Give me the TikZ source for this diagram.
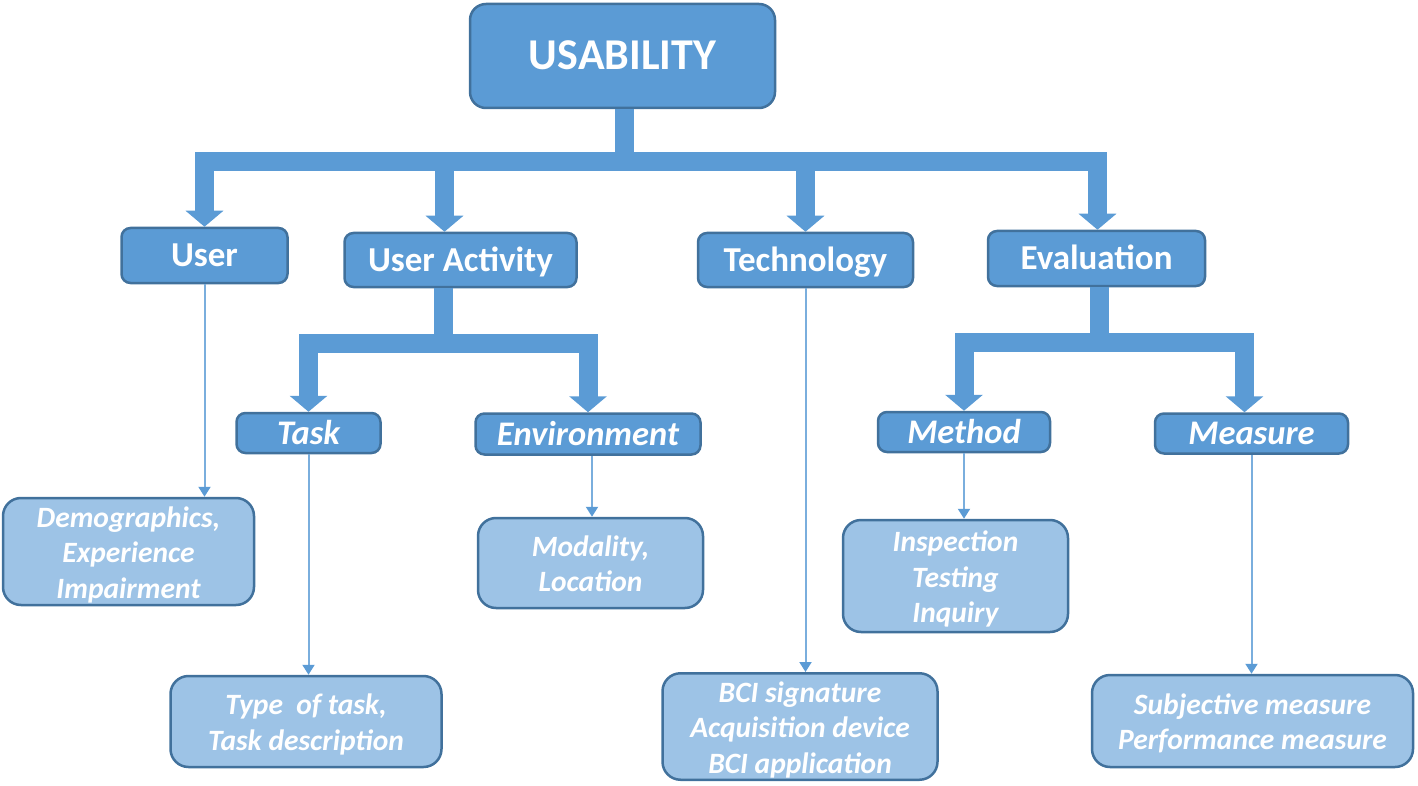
\documentclass[tikz,border=0pt]{standalone}
\usepackage{fontspec}
\setmainfont{Carlito}
\usetikzlibrary{arrows.meta}
\definecolor{cdark}{HTML}{5B9BD5}
\definecolor{cedge}{HTML}{41719C}
\definecolor{clight}{HTML}{9DC3E6}
\definecolor{cthin}{HTML}{7AAEDD}
\newcommand{\leaftext}[1]{\raisebox{-4pt}[\height][\depth]{\begin{tabular}{@{}c@{}}#1\end{tabular}}}
\tikzset{
  topbox/.style={draw=cedge, fill=cdark, line width=2.5pt, rounded corners=16pt, text=white,
    font=\bfseries\fontsize{44}{52}\selectfont, inner sep=0pt, text height=28pt, text depth=0pt},
  lvone/.style={draw=cedge, fill=cdark, line width=2.5pt, rounded corners=9pt, text=white,
    font=\bfseries\fontsize{35}{42}\selectfont, inner sep=0pt, text height=22.5pt, text depth=0pt},
  lvtwo/.style={lvone, font=\bfseries\itshape\fontsize{34.5}{41}\selectfont, text height=22pt},
  leaf/.style={draw=cedge, fill=clight, line width=2.5pt, rounded corners=18pt, text=white,
    font=\bfseries\itshape\fontsize{29.5}{35.5}\selectfont, inner sep=0pt},
  fat/.style={draw=cdark, line width=19pt, -{Triangle[width=37pt,length=16pt]}},
  slim/.style={draw=cthin, line width=2pt, -{Triangle[width=12pt,length=10pt,color=cdark]}},
}
\begin{document}
\begin{tikzpicture}[x=1pt,y=-1pt]
\useasboundingbox (0,0) rectangle (1418,786);
% nodes
\node[topbox, minimum width=305pt, minimum height=104pt] (usab) at (622.5,56) {USABILITY};
\node[lvone, minimum width=166pt, minimum height=55pt] (user) at (204.5,255.5) {User};
\node[lvone, minimum width=232pt, minimum height=54pt] (ua) at (460.5,260) {User Activity};
\node[lvone, minimum width=215pt, minimum height=54pt] (tech) at (805.5,260) {Technology};
\node[lvone, minimum width=217pt, minimum height=55pt] (eval) at (1096.5,258.5) {Evaluation};
\node[lvtwo, minimum width=144pt, minimum height=40pt] (task) at (308.5,433) {Task};
\node[lvtwo, minimum width=225pt, minimum height=41pt] (env) at (588,434) {Environment};
\node[lvtwo, minimum width=172pt, minimum height=40pt] (meth) at (964,432) {Method};
\node[lvtwo, minimum width=193pt, minimum height=40pt] (meas) at (1251.5,433.5) {Measure};
\node[leaf, minimum width=251pt, minimum height=107pt] (demo) at (128.5,551.5) {\leaftext{Demographics,\\Experience\\Impairment}};
\node[leaf, minimum width=271pt, minimum height=91pt] (type) at (306,721.5) {\leaftext{Type\ \ of task,\\Task description}};
\node[leaf, minimum width=225pt, minimum height=90pt] (mod) at (590.5,563) {\leaftext{Modality,\\Location}};
\node[leaf, minimum width=275pt, minimum height=103pt] (bci) at (800,726.5) {\leaftext{BCI signature\\Acquisition device\\BCI application}};
\node[leaf, minimum width=225pt, minimum height=112pt] (insp) at (955.5,576) {\leaftext{Inspection\\Testing\\Inquiry}};
\node[leaf, minimum width=321pt, minimum height=92pt] (subj) at (1252.5,721) {\leaftext{Subjective measure\\Performance measure}};
% thick bracket connectors
\draw[fat] ([xshift=2pt]usab.south) -- ([xshift=2pt,yshift=-52pt]usab.south) -| (user.north);
\draw[fat] ([xshift=2pt]usab.south) -- ([xshift=2pt,yshift=-52pt]usab.south) -| ([xshift=-16pt]ua.north);
\draw[fat] ([xshift=2pt]usab.south) -- ([xshift=2pt,yshift=-52pt]usab.south) -| (tech.north);
\draw[fat] ([xshift=2pt]usab.south) -- ([xshift=2pt,yshift=-52pt]usab.south) -| ([xshift=1pt]eval.north);
\draw[fat] ([xshift=-17pt]ua.south) -- ([xshift=-17pt,yshift=-55pt]ua.south) -| (task.north);
\draw[fat] ([xshift=-17pt]ua.south) -- ([xshift=-17pt,yshift=-55pt]ua.south) -| (env.north);
\draw[fat] ([xshift=3pt]eval.south) -- ([xshift=3pt,yshift=-55pt]eval.south) -| (meth.north);
\draw[fat] ([xshift=3pt]eval.south) -- ([xshift=3pt,yshift=-55pt]eval.south) -| ([xshift=-7pt]meas.north);
% thin connectors
\draw[slim] (user.south) -- (user.south |- demo.north);
\draw[slim] (task.south) -- (task.south |- type.north);
\draw[slim] ([xshift=4pt]env.south) -- ([xshift=4pt]env.south |- mod.north);
\draw[slim] (tech.south) -- (tech.south |- bci.north);
\draw[slim] (meth.south) -- (meth.south |- insp.north);
\draw[slim] (meas.south) -- (meas.south |- subj.north);
\end{tikzpicture}
\end{document}
